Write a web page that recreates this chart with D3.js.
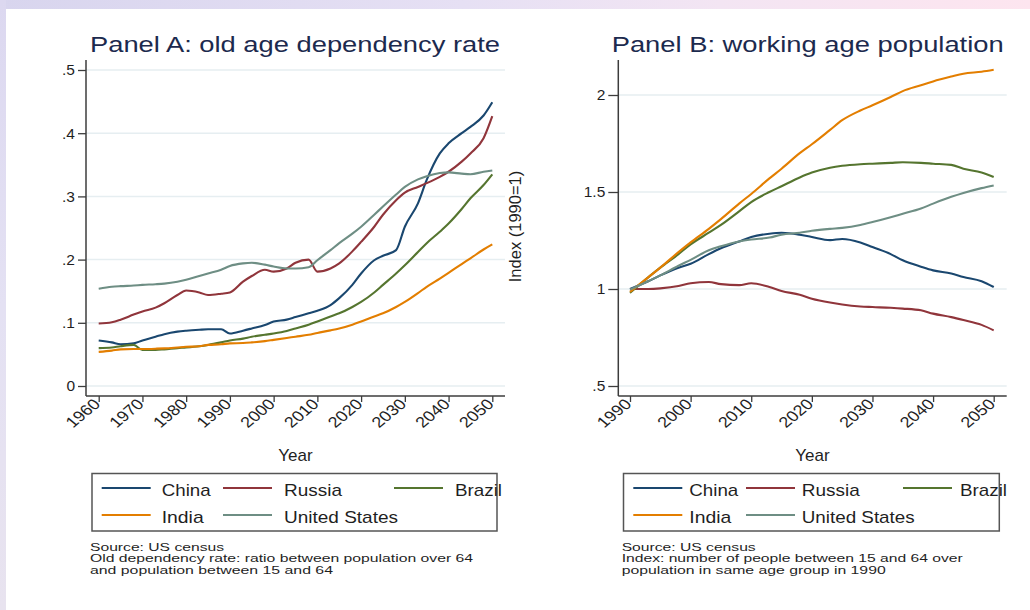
<!DOCTYPE html>
<html>
<head>
<meta charset="utf-8">
<script src="https://cdn.jsdelivr.net/npm/d3@7"></script>
<style>
  html, body { margin: 0; padding: 0; background: #ffffff; }
  svg { display: block; font-family: "Liberation Sans", Arial, Helvetica, sans-serif; }
</style>
</head>
<body>
<svg id="chart" width="1030" height="610"></svg>
<script>
// ---------- data ----------
const seriesNames  = ["China", "Russia", "Brazil", "India", "United States"];
const seriesColors = ["#1a476f", "#90353b", "#55752f", "#e37e00", "#6e8e84"];

// Panel A: old age dependency rate (population 65+ / population 15-64)
const yearsA = [1960,1963,1965,1968,1970,1973,1975,1978,1980,1983,1985,1988,1990,1993,1995,1998,
                2000,2003,2005,2008,2010,2013,2015,2018,2020,2023,2025,2028,2030,2033,2035,2038,
                2040,2043,2045,2048,2050];
const chinaA  = [.072,.069,.066,.0675,.072,.078,.082,.086,.0875,.089,.0897,.0897,.083,.0875,.091,.0965,
                 .102,.105,.109,.115,.119,.128,.139,.160,.178,.199,.206,.215,.252,.289,.326,.368,
                 .384,.400,.410,.428,.449];
const russiaA = [.099,.101,.105,.113,.118,.124,.131,.144,.151,.148,.144,.146,.148,.165,.174,.184,
                 .181,.186,.195,.200,.181,.186,.194,.213,.228,.252,.271,.294,.306,.315,.321,.331,
                 .339,.355,.368,.392,.427];
const brazilA = [.060,.061,.063,.065,.057,.057,.058,.060,.061,.063,.065,.069,.072,.075,.078,.081,
                 .083,.087,.091,.097,.102,.110,.115,.125,.133,.148,.160,.178,.191,.212,.226,.244,
                 .257,.280,.297,.318,.335];
const indiaA  = [.054,.056,.058,.0585,.0585,.059,.0596,.061,.062,.063,.065,.066,.0675,.068,.069,.071,
                 .073,.076,.078,.081,.084,.088,.091,.097,.102,.110,.115,.125,.133,.147,.157,.170,
                 .179,.193,.202,.216,.224];
const usA     = [.154,.157,.158,.159,.160,.161,.162,.165,.168,.174,.178,.184,.190,.194,.195,.192,
                 .189,.186,.186,.188,.199,.215,.226,.241,.252,.271,.284,.303,.315,.327,.332,.337,
                 .338,.336,.335,.339,.341];

// Panel B: working age population, index 1990 = 1
const yearsB = [1990,1993,1995,1998,2000,2003,2005,2008,2010,2013,2015,2018,2020,2023,2025,2028,
                2030,2033,2035,2038,2040,2043,2045,2048,2050];
const chinaB  = [1.00,1.04,1.07,1.11,1.13,1.18,1.21,1.245,1.268,1.285,1.29,1.28,1.268,1.252,1.258,1.24,
                 1.216,1.18,1.148,1.115,1.096,1.08,1.062,1.04,1.01];
const russiaB = [1.00,1.00,1.003,1.015,1.03,1.036,1.025,1.02,1.03,1.01,.99,.97,.95,.93,.92,.91,
                 .907,.903,.899,.89,.873,.855,.84,.815,.787];
const brazilB = [.98,1.06,1.11,1.18,1.23,1.29,1.33,1.40,1.448,1.50,1.53,1.575,1.60,1.625,1.635,1.643,
                 1.646,1.65,1.653,1.65,1.646,1.64,1.62,1.60,1.577];
const indiaB  = [.985,1.06,1.11,1.19,1.24,1.31,1.36,1.44,1.49,1.57,1.62,1.70,1.746,1.82,1.87,1.92,
                 1.947,1.99,2.02,2.05,2.07,2.095,2.11,2.12,2.13];
const usB     = [.997,1.04,1.07,1.12,1.15,1.20,1.22,1.245,1.255,1.265,1.28,1.29,1.30,1.31,1.315,1.33,
                 1.345,1.37,1.388,1.415,1.44,1.475,1.495,1.52,1.534];

// ticks and labels
const xTicksA = [1960,1970,1980,1990,2000,2010,2020,2030,2040,2050];
const yTicksA = [0, .1, .2, .3, .4, .5];
const yTickLabelsA = ["0", ".1", ".2", ".3", ".4", ".5"];
const xTicksB = [1990,2000,2010,2020,2030,2040,2050];
const yTicksB = [.5, 1, 1.5, 2];
const yTickLabelsB = [".5", "1", "1.5", "2"];

const titleA = "Panel A: old age dependency rate";
const titleB = "Panel B: working age population";
const xTitle = "Year";
const yTitleB = "Index (1990=1)";
const notesA = ["Source: US census",
                "Old dependency rate: ratio between population over 64",
                "and population between 15 and 64"];
const notesB = ["Source: US census",
                "Index: number of people between 15 and 64 over",
                "population in same age group in 1990"];

// ---------- drawing ----------
const svg = d3.select("#chart");
const defs = svg.append("defs");

// soft slide backdrop along the top and left edges
const gTop = defs.append("linearGradient").attr("id", "bandTop").attr("x1", 0).attr("x2", 1).attr("y1", 0).attr("y2", 0);
[["0", "#d8d5ee"], ["0.45", "#e6e0f4"], ["0.7", "#f3e5f3"], ["1", "#fde5ef"]]
  .forEach(([o, c]) => gTop.append("stop").attr("offset", o).attr("stop-color", c));
const gLeft = defs.append("linearGradient").attr("id", "bandLeft").attr("x1", 0).attr("x2", 0).attr("y1", 0).attr("y2", 1);
[["0", "#dcd8f0"], ["0.5", "#e4e1f3"], ["1", "#e8e3ef"]]
  .forEach(([o, c]) => gLeft.append("stop").attr("offset", o).attr("stop-color", c));
svg.append("rect").attr("x", 0).attr("y", 0).attr("width", 1030).attr("height", 9).attr("fill", "url(#bandTop)");
svg.append("rect").attr("x", 0).attr("y", 0).attr("width", 6).attr("height", 610).attr("fill", "url(#bandLeft)");

const axisColor = "#3c3c3c";
const gridColor = "#e6eef1";
const textColor = "#1f1f1f";

function fit(sel, w) {
  sel.attr("textLength", w).attr("lengthAdjust", "spacingAndGlyphs");
  return sel;
}

function drawPanel(cfg) {
  const g = svg.append("g");
  const x = d3.scaleLinear().domain(cfg.xDomain).range(cfg.xRange);
  const y = d3.scaleLinear().domain(cfg.yDomain).range(cfg.yRange);
  const { left, right, top, bottom } = cfg.box;

  // gridlines
  g.append("g").selectAll("line").data(cfg.yTicks).join("line")
    .attr("x1", left).attr("x2", right)
    .attr("y1", d => y(d)).attr("y2", d => y(d))
    .attr("stroke", gridColor).attr("stroke-width", 1.5);

  // series
  const line = d3.line()
    .x((d, i) => x(cfg.years[i]))
    .y(d => y(d))
    .curve(d3.curveMonotoneX);
  cfg.series.forEach((vals, i) => {
    g.append("path").datum(vals)
      .attr("d", line)
      .attr("fill", "none")
      .attr("stroke", seriesColors[i])
      .attr("stroke-width", 2.1)
      .attr("stroke-linejoin", "round");
  });

  // y axis
  const yAxis = d3.axisLeft(y).tickValues(cfg.yTicks)
    .tickFormat((d, i) => cfg.yTickLabels[i])
    .tickSize(cfg.yTickSize).tickPadding(3);
  const ya = g.append("g").attr("transform", `translate(${left},0)`).call(yAxis);
  ya.select(".domain").remove();
  ya.selectAll("line").attr("stroke", axisColor).attr("stroke-width", 1.3);
  ya.selectAll("text").attr("fill", textColor).attr("font-size", 15.5)
    .attr("font-family", "Liberation Sans, Arial, sans-serif");

  // x axis
  const xAxis = d3.axisBottom(x).tickValues(cfg.xTicks)
    .tickFormat(d3.format("d")).tickSize(6);
  const xa = g.append("g").attr("transform", `translate(0,${bottom})`).call(xAxis);
  xa.select(".domain").remove();
  xa.selectAll("line").attr("stroke", axisColor).attr("stroke-width", 1.3);
  xa.selectAll("text")
    .attr("fill", textColor).attr("font-size", 15)
    .attr("font-family", "Liberation Sans, Arial, sans-serif")
    .attr("text-anchor", "end")
    .attr("x", 0).attr("y", 0).attr("dy", 0)
    .attr("transform", "translate(2,9) scale(1.2,1) rotate(-45)");

  // axis lines
  g.append("line").attr("x1", left).attr("x2", left).attr("y1", top).attr("y2", bottom)
    .attr("stroke", axisColor).attr("stroke-width", 1.5);
  g.append("line").attr("x1", left).attr("x2", right).attr("y1", bottom).attr("y2", bottom)
    .attr("stroke", axisColor).attr("stroke-width", 1.5);

  // title
  fit(g.append("text").attr("x", cfg.title.x).attr("y", 52)
    .attr("font-size", 22).attr("fill", "#1c2a4e").text(cfg.title.text), cfg.title.w);

  // x title
  g.append("text").attr("x", (left + right) / 2).attr("y", 461)
    .attr("text-anchor", "middle").attr("font-size", 17).attr("fill", textColor).text(xTitle);

  // legend
  const L = cfg.legend;
  g.append("rect").attr("x", L.x0).attr("y", 473.5).attr("width", L.x1 - L.x0).attr("height", 57.5)
    .attr("fill", "#ffffff").attr("stroke", "#555555").attr("stroke-width", 1.5);
  const rows = [488, 515];
  const order = [[0, 0, 0], [1, 0, 1], [2, 0, 2], [3, 1, 0], [4, 1, 1]]; // series, row, column
  order.forEach(([s, r, c]) => {
    const lx = L.cols[c];
    g.append("line").attr("x1", lx).attr("x2", lx + 49).attr("y1", rows[r]).attr("y2", rows[r])
      .attr("stroke", seriesColors[s]).attr("stroke-width", 2);
    fit(g.append("text").attr("x", L.labels[c]).attr("y", rows[r] + 7.5)
      .attr("font-size", 17).attr("fill", textColor).text(seriesNames[s]), L.widths[s]);
  });

  // notes
  const noteY = [550.5, 562, 573.5];
  cfg.notes.forEach((t, i) => {
    fit(g.append("text").attr("x", cfg.noteX).attr("y", noteY[i])
      .attr("font-size", 11.5).attr("fill", textColor).text(t), cfg.noteW[i]);
  });

  return { g, x, y };
}

drawPanel({
  xDomain: [1960, 2050], xRange: [98.7, 492.3],
  yDomain: [0, .5], yRange: [386, 70],
  box: { left: 86, right: 505, top: 60, bottom: 396 },
  years: yearsA,
  series: [chinaA, russiaA, brazilA, indiaA, usA],
  xTicks: xTicksA, yTicks: yTicksA, yTickLabels: yTickLabelsA, yTickSize: 8,
  title: { text: titleA, x: 90, w: 410 },
  legend: { x0: 92, x1: 497, cols: [101.7, 223, 394], labels: [161.7, 284, 455],
            widths: [49, 58, 47, 42, 114] },
  notes: notesA, noteX: 90, noteW: [134, 383, 243]
});

const panelB = drawPanel({
  xDomain: [1990, 2050], xRange: [630, 993.7],
  yDomain: [.5, 2], yRange: [386, 95],
  box: { left: 618.3, right: 1006.7, top: 60, bottom: 396 },
  years: yearsB,
  series: [chinaB, russiaB, brazilB, indiaB, usB],
  xTicks: xTicksB, yTicks: yTicksB, yTickLabels: yTickLabelsB, yTickSize: 10,
  title: { text: titleB, x: 611.7, w: 392 },
  legend: { x0: 623.5, x1: 999.3, cols: [633.3, 746, 903], labels: [689.3, 801.7, 960],
            widths: [49, 58, 47, 42, 113] },
  notes: notesB, noteX: 621.7, noteW: [134, 341, 264]
});

// y axis title for panel B
panelB.g.append("text")
  .attr("transform", "translate(521,226.5) rotate(-90)")
  .attr("text-anchor", "middle").attr("font-size", 16.5).attr("fill", textColor)
  .text(yTitleB);
</script>
</body>
</html>
